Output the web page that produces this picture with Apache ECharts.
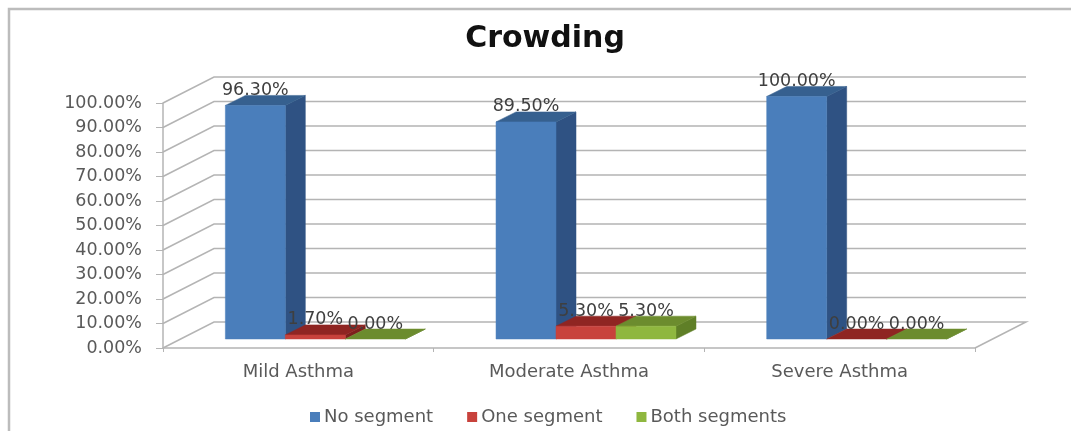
<!DOCTYPE html>
<html>
<head>
<meta charset="utf-8">
<style>html,body{margin:0;padding:0;background:#fff}#c{width:1071px;height:431px}</style>
<script src="https://cdn.jsdelivr.net/npm/echarts@6/dist/echarts.min.js"></script>
</head>
<body>
<div id="c"></div>
<script>
const categories = ['Mild Asthma', 'Moderate Asthma', 'Severe Asthma'];
const noSegment = [96.3, 89.5, 100];
const oneSegment = [1.7, 5.3, 0];
const bothSegments = [0, 5.3, 0];
const gridTicks = [0, 10, 20, 30, 40, 50, 60, 70, 80, 90, 100];

const FONT = '"DejaVu Sans", sans-serif';
const TXT = '#595959';
const GRIDC = '#b4b4b4';
const WALL = [51, -26];
const FRONT = [17, -9];
const DEPTH = [20, -10];
const BAR = 0.2216;
const FORE = 0.99;

function pct(v) { return v.toFixed(2) + '%'; }

function poly(points, fill, stroke) {
  return { type: 'polygon', shape: { points }, style: { fill, stroke: stroke || fill, lineWidth: 0.5 } };
}

function barSeries(name, values, slot, front, top, side) {
  return {
    name, type: 'custom', coordinateSystem: 'cartesian2d', clip: false, z: 3,
    itemStyle: { color: front },
    encode: { x: 0, y: 1 },
    data: values.map((v, i) => [i, v]),
    renderItem(params, api) {
      const v = api.value(1);
      const c = api.coord([api.value(0), v]);
      const b = api.coord([api.value(0), 0]);
      const w = api.size([1, 0])[0] * BAR;
      const x0 = c[0] + FRONT[0] + (slot - 1.5) * w;
      const x1 = x0 + w;
      const yb = b[1] + FRONT[1];
      const yt = yb - (b[1] - c[1]) * FORE;
      const [dx, dy] = DEPTH;
      const children = [
        poly([[x1, yb], [x1 + dx, yb + dy], [x1 + dx, yt + dy], [x1, yt]], side),
        poly([[x0, yt], [x1, yt], [x1 + dx, yt + dy], [x0 + dx, yt + dy]], top)
      ];
      if (yb - yt > 0.5) {
        children.push(poly([[x0, yb], [x1, yb], [x1, yt], [x0, yt]], front));
      }
      children.push({
        type: 'text', z2: 50, x: (x0 + x1) / 2, y: yt - 15,
        style: { text: pct(v), fill: '#3f3f3f', font: '17.5px ' + FONT, align: 'center', verticalAlign: 'middle' }
      });
      return { type: 'group', children };
    }
  };
}

const chart = echarts.init(document.getElementById('c'), null, { renderer: 'canvas' });
chart.setOption({
  animation: false,
  backgroundColor: '#ffffff',
  title: {
    text: 'Crowding', left: 540, top: 19, textAlign: 'center',
    textStyle: { fontFamily: FONT, fontWeight: 'bold', fontSize: 30, color: '#111111' }
  },
  graphic: [{
    type: 'rect', silent: true, z: 0,
    shape: { x: 9, y: 9, width: 1100, height: 500 },
    style: { fill: 'none', stroke: '#bcbcbc', lineWidth: 2.5 }
  }],
  legend: {
    left: 305, top: 403, icon: 'rect', itemWidth: 10, itemHeight: 10, itemGap: 34,
    data: ['No segment', 'One segment', 'Both segments'],
    textStyle: { fontFamily: FONT, fontSize: 18, color: TXT, padding: [0, 0, 0, -1] }
  },
  grid: { left: 163, top: 103, width: 812, height: 245 },
  xAxis: {
    type: 'category', data: categories,
    axisLine: { lineStyle: { color: GRIDC, width: 1.5 } },
    axisTick: { show: true, length: 4, lineStyle: { color: GRIDC } },
    axisLabel: { fontFamily: FONT, fontSize: 18, color: TXT, margin: 15 }
  },
  yAxis: {
    type: 'value', min: 0, max: 100, interval: 10,
    axisLine: { show: true, lineStyle: { color: GRIDC, width: 1.5 } },
    axisTick: { show: true, length: 7, lineStyle: { color: GRIDC } },
    splitLine: { show: false },
    axisLabel: { fontFamily: FONT, fontSize: 17.5, color: TXT, margin: 21, padding: [4, 0, 0, 0], formatter: pct }
  },
  series: [
    {
      type: 'custom', coordinateSystem: 'cartesian2d', clip: false, z: 1, silent: true,
      encode: { x: 0, y: 1 },
      data: gridTicks.map(t => [0, t]),
      renderItem(params, api) {
        const t = api.value(1);
        const y = api.coord([0, t])[1];
        const cs = params.coordSys;
        const xl = cs.x, xr = cs.x + cs.width;
        const pts = [[xl, y], [xl + WALL[0], y + WALL[1]], [xr + WALL[0], y + WALL[1]]];
        if (t === 0) pts.push([xr, y]);
        return { type: 'polyline', shape: { points: pts }, style: { fill: 'none', stroke: GRIDC, lineWidth: 1.5 } };
      }
    },
    barSeries('No segment', noSegment, 0, '#4a7ebb', '#36608f', '#2f5283'),
    barSeries('One segment', oneSegment, 1, '#c8423c', '#8f2522', '#7e201d'),
    barSeries('Both segments', bothSegments, 2, '#8fb73f', '#6c8c2e', '#5f7f27')
  ]
});
</script>
</body>
</html>
